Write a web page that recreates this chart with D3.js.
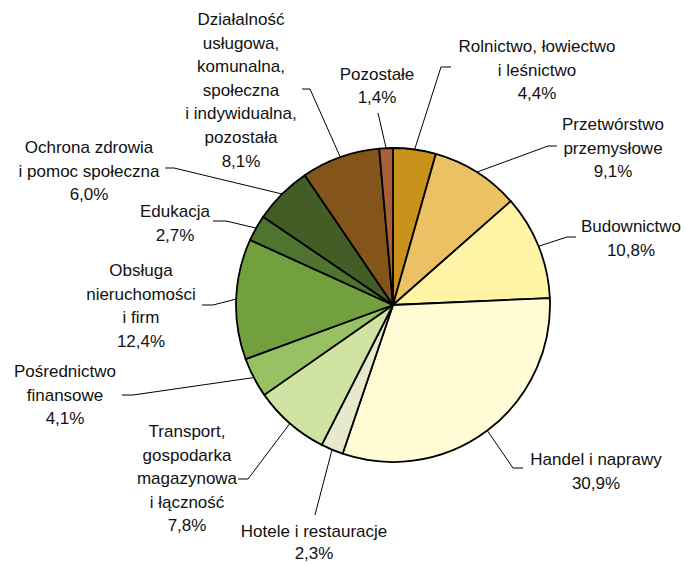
<!DOCTYPE html>
<html>
<head>
<meta charset="utf-8">
<script src="https://cdn.jsdelivr.net/npm/d3@7"></script>
<style>
  html, body { margin: 0; padding: 0; background: #fff; }
  svg { display: block; }
  text { font-family: "Liberation Sans", Arial, sans-serif; font-size: 17px; fill: #111; }
</style>
</head>
<body>
<svg id="chart" width="685" height="564"></svg>
<script>
// ---- data ----
const categories = [
  ["Rolnictwo, łowiectwo", "i leśnictwo"],
  ["Przetwórstwo", "przemysłowe"],
  ["Budownictwo"],
  ["Handel i naprawy"],
  ["Hotele i restauracje"],
  ["Transport,", "gospodarka", "magazynowa", "i łączność"],
  ["Pośrednictwo", "finansowe"],
  ["Obsługa", "nieruchomości", "i firm"],
  ["Edukacja"],
  ["Ochrona zdrowia", "i pomoc społeczna"],
  ["Działalność", "usługowa,", "komunalna,", "społeczna", "i indywidualna,", "pozostała"],
  ["Pozostałe"]
];
const values = [4.4, 9.1, 10.8, 30.9, 2.3, 7.8, 4.1, 12.4, 2.7, 6.0, 8.1, 1.4];
const valueLabels = ["4,4%", "9,1%", "10,8%", "30,9%", "2,3%", "7,8%", "4,1%", "12,4%", "2,7%", "6,0%", "8,1%", "1,4%"];
const colors = ["#C9921B", "#EBC263", "#FFF4A6", "#FFFBD5", "#E7E9CB", "#D0E3A2",
                "#97C162", "#72A03F", "#4E7430", "#445D26", "#84551B", "#A95F39"];

// ---- layout (label placement, not data) ----
const labelLayout = [
  { x: 537, y: 52,  elbow: [441, 67],  end: [451, 67] },
  { x: 613, y: 130, elbow: [548, 146], end: [557, 146] },
  { x: 631, y: 232, elbow: [567, 237], end: [576, 237] },
  { x: 596, y: 465, elbow: [513, 468], end: [523, 468] },
  { x: 314, y: 537, elbow: [315, 515], end: [315, 515] },
  { x: 187, y: 437, elbow: [248, 479], end: [238, 479] },
  { x: 65,  y: 377, elbow: [133, 395], end: [122, 395] },
  { x: 141, y: 276, elbow: [213, 305], end: [202, 305] },
  { x: 175, y: 217, elbow: [226, 221], end: [213, 221] },
  { x: 89,  y: 153, elbow: [174, 168], end: [165, 168] },
  { x: 241, y: 25,  elbow: [310, 89],  end: [302, 89] },
  { x: 377, y: 79.5, elbow: [378, 113], end: [378, 113] }
];
const lineH = 23.6;
const cx = 393, cy = 305, R = 157;

const svg = d3.select("#chart");
const g = svg.append("g").attr("transform", `translate(${cx},${cy})`);

const pie = d3.pie().sort(null).value(d => d)(values);
const arc = d3.arc().innerRadius(0).outerRadius(R);
const edgeArc = d3.arc().innerRadius(R).outerRadius(R);

g.selectAll("path.slice")
  .data(pie)
  .join("path")
  .attr("class", "slice")
  .attr("d", arc)
  .attr("fill", (d, i) => colors[i])
  .attr("stroke", "#000")
  .attr("stroke-width", 1.8)
  .attr("stroke-linejoin", "round");

// leader lines
svg.append("g").selectAll("polyline")
  .data(pie)
  .join("polyline")
  .attr("points", (d, i) => {
    const c = edgeArc.centroid(d);
    const L = labelLayout[i];
    return [[cx + c[0], cy + c[1]], L.elbow, L.end].map(p => p.join(",")).join(" ");
  })
  .attr("fill", "none")
  .attr("stroke", "#000")
  .attr("stroke-width", 1);

// labels
const labels = svg.append("g").selectAll("text")
  .data(pie)
  .join("text")
  .attr("text-anchor", "middle")
  .attr("x", (d, i) => labelLayout[i].x)
  .attr("y", (d, i) => labelLayout[i].y);

labels.each(function(d, i) {
  const t = d3.select(this);
  const lines = categories[i].concat([valueLabels[i]]);
  const h = (i === 4) ? 22 : lineH;
  lines.forEach((ln, k) => {
    t.append("tspan")
      .attr("x", labelLayout[i].x)
      .attr("y", labelLayout[i].y + k * h)
      .text(ln);
  });
});
</script>
</body>
</html>
